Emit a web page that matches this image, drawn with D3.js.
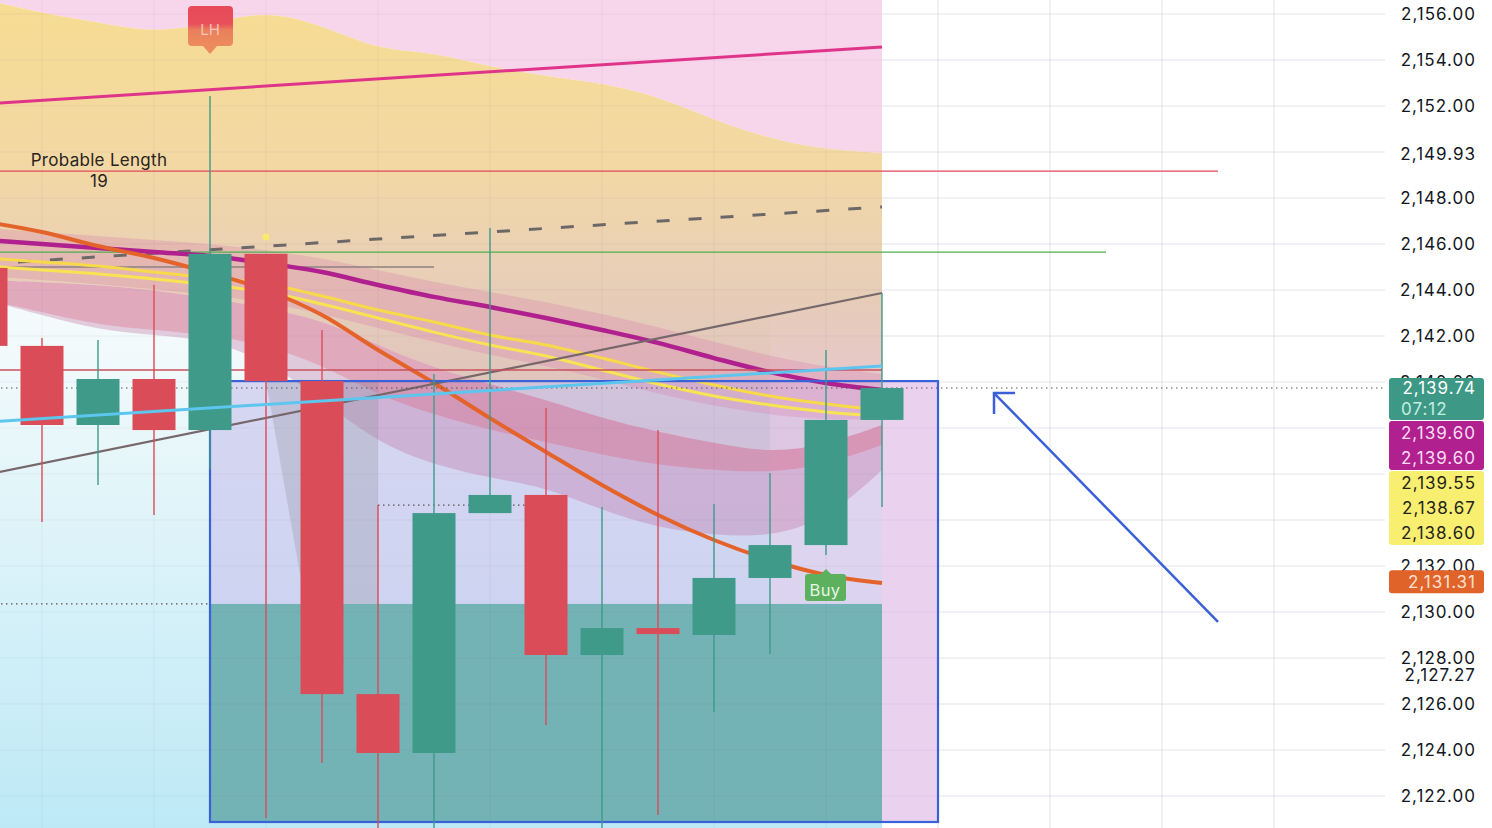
<!DOCTYPE html>
<html>
<head>
<meta charset="utf-8">
<script src="https://cdn.jsdelivr.net/npm/d3@7/dist/d3.min.js"></script>
<style>
html, body { margin: 0; padding: 0; background: #fff; overflow: hidden; }
svg { display: block; font-family: Inter, "Noto Sans", sans-serif; }
</style>
</head>
<body>
<svg id="chart" width="1492" height="828"></svg>
<script>
// ---- candles (bar index 0..16) ----
const opens  = [2144.96, 2141.57, 2138.13, 2140.13, 2137.91, 2145.57, 2140.04, 2126.43, 2123.87, 2134.30, 2135.09, 2128.13, 2129.30, 2129.00, 2131.48, 2132.91, 2138.35];
const closes = [2141.57, 2138.13, 2140.13, 2137.91, 2145.57, 2140.04, 2126.43, 2123.87, 2134.30, 2135.09, 2128.13, 2129.30, 2129.04, 2131.48, 2132.91, 2138.35, 2139.74];
const highs  = [2146.00, 2141.91, 2141.83, 2144.22, 2152.43, 2145.57, 2142.26, 2134.65, 2140.35, 2146.70, 2138.87, 2134.57, 2137.91, 2134.70, 2136.04, 2141.39, 2143.87];
const lows   = [2140.50, 2133.91, 2135.52, 2134.22, 2136.20, 2121.04, 2123.43, 2120.20, 2120.20, 2134.30, 2125.09, 2120.30, 2121.17, 2125.65, 2128.17, 2132.48, 2134.57];

// ---- moving averages ----
const maMagenta = [2146.17, 2146.00, 2145.83, 2145.65, 2145.48, 2145.17, 2144.78, 2144.22, 2143.70, 2143.26, 2142.78, 2142.26, 2141.70, 2141.04, 2140.43, 2139.96, 2139.65];
const maOrange  = [2146.96, 2146.52, 2145.91, 2145.39, 2144.74, 2144.00, 2142.91, 2141.39, 2139.96, 2138.43, 2136.96, 2135.52, 2134.22, 2133.13, 2132.26, 2131.61, 2131.26];
const maYellow1 = [2145.39, 2145.22, 2145.04, 2144.78, 2144.52, 2144.26, 2143.74, 2143.13, 2142.61, 2142.04, 2141.61, 2141.04, 2140.43, 2139.87, 2139.39, 2139.04, 2138.78];
const maYellow2 = [2145.04, 2144.87, 2144.70, 2144.48, 2144.22, 2143.91, 2143.39, 2142.78, 2142.17, 2141.61, 2141.13, 2140.52, 2139.91, 2139.39, 2139.00, 2138.70, 2138.52];

// ---- cloud and ribbon bands ----
const cloudTop = [2156.61, 2156.04, 2155.65, 2155.17, 2155.57, 2156.17, 2155.52, 2154.43, 2154.35, 2153.70, 2153.30, 2153.00, 2152.43, 2151.39, 2150.57, 2150.09, 2149.96];
const bandATop = [2146.70, 2146.52, 2146.35, 2146.17, 2146.00, 2145.74, 2145.39, 2144.87, 2144.35, 2143.91, 2143.48, 2142.96, 2142.39, 2141.74, 2141.13, 2140.65, 2140.35];
const bandABot = [2144.61, 2144.43, 2144.26, 2144.04, 2143.78, 2143.48, 2142.96, 2142.35, 2141.74, 2141.17, 2140.70, 2140.13, 2139.48, 2138.96, 2138.57, 2138.35, 2138.35];
const bandBTop = [2144.43, 2144.35, 2144.22, 2144.00, 2143.65, 2143.22, 2142.70, 2141.61, 2140.61, 2139.91, 2139.22, 2138.43, 2137.83, 2137.35, 2136.91, 2137.26, 2138.13];
const bandBBot = [2143.57, 2143.04, 2142.48, 2142.26, 2142.04, 2141.61, 2140.74, 2139.43, 2138.57, 2137.91, 2137.39, 2136.83, 2136.39, 2136.17, 2136.04, 2136.39, 2137.26];
const bandCBot = [2143.57, 2142.91, 2142.26, 2142.04, 2141.83, 2140.96, 2139.22, 2137.35, 2136.39, 2135.83, 2135.43, 2134.43, 2133.65, 2133.35, 2133.26, 2134.00, 2136.17];
const grayWedge = [[5, 2140.04], [7, 2140.04], [7, 2130.35], [5.7, 2130.35]];

// ---- drawings: [bar, price] pairs ----
const trendMagenta = [[0, 2152.09], [16, 2154.57]];
const trendDashed  = [[0, 2145.13], [16, 2147.61]];
const trendGray    = [[0, 2135.97], [16, 2143.87]];
const trendBlue    = [[0, 2138.26], [16, 2140.70]];
const arrowLine    = [[22, 2129.57], [18, 2139.52]];
// horizontal levels: [price, fromBar, toBar]
const levelRed    = [2149.17, 0, 22];
const levelGreen  = [2145.65, 0, 20];
const levelGrayS  = [2145.00, 0, 8];
const levelRed2   = [2140.52, 0, 16];
const dottedLevels = [[2139.74, 0, 25], [2130.35, 0, 4], [2134.65, 7, 10]];
// range box: bars 4..17, price top/bottom, zone top
const boxBars = [4, 17];
const boxPrices = [2140.04, 2120.87];
const zoneTop = 2130.35;
const yellowDot = [5, 2146.30];

// ---- price axis ----
const tickValues = [2156, 2154, 2152, 2148, 2146, 2144, 2142, 2140, 2132, 2130, 2128, 2126, 2124, 2122];
const extraTicks = [2149.93, 2127.27];
const lastPrice = 2139.74;
const countdown = "07:12";
const purpleLabels = [2139.60, 2139.60];
const yellowLabels = [2139.55, 2138.67, 2138.60];
const orangeLabel = 2131.31;

const W = 1492, H = 828, plotRight = 1385;
const x = d3.scaleLinear().domain([0, 16]).range([-14, 882]);
const y = d3.scaleLinear().domain([2122, 2156]).range([796, 14]);
const fmt = d3.format(",.2f");
const idx = d3.range(opens.length);
const bw = 43;

const svg = d3.select("#chart");
const defs = svg.append("defs");

defs.append("clipPath").attr("id", "plotClip")
    .append("rect").attr("x", 0).attr("y", 0).attr("width", plotRight).attr("height", H);

function vGrad(id, stops, y1, y2) {
    let g = defs.append("linearGradient").attr("id", id)
        .attr("gradientUnits", "userSpaceOnUse")
        .attr("x1", 0).attr("x2", 0).attr("y1", y1).attr("y2", y2);
    stops.forEach(s => g.append("stop").attr("offset", s[0]).attr("stop-color", s[1]).attr("stop-opacity", s[2] === undefined ? 1 : s[2]));
}
vGrad("bgGrad", [[0, "#fbfdfd"], [0.42, "#f2fafb"], [1, "#bde9f6"]], 0, 828);
vGrad("cloudGrad", [[0, "#f7dc92"], [0.4, "#f2d8a5"], [0.62, "#e9d0b6"], [1, "#dcc0c0"]], 0, 430);
vGrad("lhGrad", [[0, "#e8495a"], [0.45, "#e8505a"], [0.6, "#ea7f5c"], [1, "#ec8c5c"]], 6, 46);
vGrad("tailGrad", [[0, "#fcd2ee", 0], [0.3, "#fcd2ee", 0.3], [1, "#fcd2ee", 0.3]], 300, 604);

const plot = svg.append("g").attr("clip-path", "url(#plotClip)");

// base grid on white
const gridPrices = d3.range(2122, 2157, 2);
const gridBars = d3.range(1, 25, 2);
function drawGrid(g, color) {
    g.selectAll(".gh").data(gridPrices).enter().append("line")
        .attr("x1", 0).attr("x2", plotRight)
        .attr("y1", d => y(d)).attr("y2", d => y(d))
        .attr("stroke", color).attr("stroke-width", 1);
    g.selectAll(".gv").data(gridBars).enter().append("line")
        .attr("x1", d => x(d)).attr("x2", d => x(d))
        .attr("y1", 0).attr("y2", H)
        .attr("stroke", color).attr("stroke-width", 1);
}
drawGrid(plot.append("g"), "#eeeef2");

// indicator backgrounds (bars 0..16)
plot.append("rect").attr("x", 0).attr("y", 0)
    .attr("width", x(16)).attr("height", H).attr("fill", "url(#bgGrad)");

plot.append("path").datum(idx)
    .attr("d", d3.area().x(i => x(i)).y0(0).y1(i => y(cloudTop[i])).curve(d3.curveBasis))
    .attr("fill", "#f7d5ea");

plot.append("path").datum(idx)
    .attr("d", d3.area().x(i => x(i)).y0(i => y(bandBTop[i])).y1(i => y(cloudTop[i])).curve(d3.curveBasis))
    .attr("fill", "url(#cloudGrad)");

// range box fill
plot.append("rect")
    .attr("x", x(boxBars[0])).attr("y", y(boxPrices[0]))
    .attr("width", x(boxBars[1]) - x(boxBars[0])).attr("height", y(boxPrices[1]) - y(boxPrices[0]))
    .attr("fill", "rgba(200,193,236,0.62)");
plot.append("rect")
    .attr("x", x(boxBars[0])).attr("y", y(zoneTop))
    .attr("width", x(16) - x(boxBars[0])).attr("height", y(boxPrices[1]) - y(zoneTop))
    .attr("fill", "#73b3b5");
plot.append("rect")
    .attr("x", x(16)).attr("y", y(boxPrices[0]))
    .attr("width", x(boxBars[1]) - x(16)).attr("height", y(boxPrices[1]) - y(boxPrices[0]))
    .attr("fill", "rgba(244,205,236,0.6)");
plot.append("rect")
    .attr("x", x(14)).attr("y", 300)
    .attr("width", x(16) - x(14)).attr("height", y(zoneTop) - 300)
    .attr("fill", "url(#tailGrad)");

// ribbon bands
function band(top, bot, fill) {
    plot.append("path").datum(idx)
        .attr("d", d3.area().x(i => x(i)).y0(i => y(bot[i])).y1(i => y(top[i])).curve(d3.curveBasis))
        .attr("fill", fill);
}
band(bandATop, bandABot, "rgba(214,120,172,0.28)");
band(bandBBot, bandCBot, "rgba(190,110,160,0.34)");
band(bandBTop, bandBBot, "rgba(208,88,125,0.5)");

plot.append("path").datum(grayWedge)
    .attr("d", d3.line().x(d => x(d[0])).y(d => y(d[1])))
    .attr("fill", "rgba(140,140,155,0.28)");

// faint grid over the coloured zone
drawGrid(plot.append("g"), "rgba(110,100,140,0.07)");

// lines under candles
const seg = d3.line().x(d => x(d[0])).y(d => y(d[1]));
function trend(pts, color, w, dash) {
    plot.append("path").datum(pts).attr("d", seg)
        .attr("fill", "none").attr("stroke", color).attr("stroke-width", w)
        .attr("stroke-dasharray", dash || null);
}
function level(l, color, w, dash) {
    trend([[l[1], l[0]], [l[2], l[0]]], color, w, dash);
}
trend(trendMagenta, "#e0348b", 3);
level(levelRed, "#e04a5c", 1.2);
trend(trendDashed, "#6d6868", 3, "13 19");
level(levelGreen, "#4caf50", 1.2);
level(levelGrayS, "#8c8282", 1.5);

const maLine = d3.line().x((d, i) => x(i)).y(d => y(d)).curve(d3.curveMonotoneX);
function ma(data, color, w) {
    plot.append("path").datum(data).attr("d", maLine)
        .attr("fill", "none").attr("stroke", color).attr("stroke-width", w);
}
ma(maYellow1, "#f7d94a", 3);
ma(maYellow2, "#f8e452", 3);
ma(maMagenta, "#b0208e", 4.5);
ma(maOrange, "#e4632a", 4);
trend(trendGray, "#76686a", 2.2);
level(levelRed2, "#c8505e", 1.5);
dottedLevels.forEach(l => level(l, "#555", 1.2, "1.5 3.5"));

// range box outline
plot.append("rect")
    .attr("x", x(boxBars[0])).attr("y", y(boxPrices[0]))
    .attr("width", x(boxBars[1]) - x(boxBars[0])).attr("height", y(boxPrices[1]) - y(boxPrices[0]))
    .attr("fill", "none").attr("stroke", "#3a62d8").attr("stroke-width", 2.2);

// candles
const up = "#3f9a89", down = "#db4c59";
const candle = plot.append("g").selectAll("g").data(idx).enter().append("g");
candle.append("line")
    .attr("x1", i => x(i)).attr("x2", i => x(i))
    .attr("y1", i => y(highs[i])).attr("y2", i => y(lows[i]))
    .attr("stroke", i => closes[i] >= opens[i] ? up : down).attr("stroke-width", 1.4);
candle.append("rect")
    .attr("x", i => x(i) - bw / 2).attr("width", bw)
    .attr("y", i => y(Math.max(opens[i], closes[i])))
    .attr("height", i => Math.max(1, Math.abs(y(opens[i]) - y(closes[i]))))
    .attr("fill", i => closes[i] >= opens[i] ? up : down);

// lines above candles
trend(trendBlue, "#5cc6ee", 3);
plot.append("circle").attr("cx", x(yellowDot[0])).attr("cy", y(yellowDot[1]))
    .attr("r", 3.5).attr("fill", "#f8ea6a");

// arrow
trend(arrowLine, "#3a5fd8", 2.5);
const tip = [x(arrowLine[1][0]), y(arrowLine[1][1])];
plot.append("path")
    .attr("d", `M${tip[0] + 21},${tip[1]}H${tip[0]}V${tip[1] + 21}`)
    .attr("fill", "none").attr("stroke", "#3a5fd8").attr("stroke-width", 2.5);

// LH label above bar 4
const lhX = x(4), lhTip = y(highs[4]) - 42;
plot.append("path")
    .attr("d", `M${lhX - 7},${lhTip - 8}L${lhX},${lhTip}L${lhX + 7},${lhTip - 8}Z`)
    .attr("fill", "#ec8c5c");
plot.append("rect").attr("x", lhX - 22).attr("y", lhTip - 48).attr("width", 45).attr("height", 40)
    .attr("rx", 4).attr("fill", "url(#lhGrad)");
plot.append("text").attr("x", lhX).attr("y", lhTip - 25)
    .attr("text-anchor", "middle").attr("dominant-baseline", "central")
    .attr("font-size", 15).attr("fill", "#f6c2bb").text("LH");

// Buy label below bar 15
const byX = x(15), byTip = y(lows[15]) + 14;
plot.append("path")
    .attr("d", `M${byX - 5},${byTip + 5}L${byX},${byTip}L${byX + 5},${byTip + 5}Z`)
    .attr("fill", "#5cb05e");
plot.append("rect").attr("x", byX - 21).attr("y", byTip + 5).attr("width", 41).attr("height", 27)
    .attr("rx", 3).attr("fill", "#5cb05e");
plot.append("text").attr("x", byX - 1).attr("y", byTip + 21)
    .attr("text-anchor", "middle").attr("dominant-baseline", "central")
    .attr("font-size", 16.5).attr("letter-spacing", 0.4).attr("fill", "#e6f6e4").text("Buy");

// Probable Length note
const note = plot.append("text").attr("text-anchor", "middle")
    .attr("font-size", 17).attr("letter-spacing", 0.3).attr("fill", "#2a2420");
note.append("tspan").attr("x", x(2) + 1).attr("y", y(levelRed[0]) - 5).text("Probable Length");
note.append("tspan").attr("x", x(2) + 1).attr("y", y(levelRed[0]) + 16).text("19");

// ---- price axis ----
const axisG = svg.append("g");
const labelX = 1476;
const fs = 17, ls = 1;
axisG.selectAll(".tick").data(tickValues.concat(extraTicks)).enter().append("text")
    .attr("x", labelX).attr("y", d => y(d))
    .attr("text-anchor", "end").attr("dominant-baseline", "central")
    .attr("font-size", fs).attr("letter-spacing", ls).attr("fill", "#131722")
    .text(d => fmt(d));

const boxX = 1389, boxW = 95;
const y0 = y(lastPrice);
function tag(top, h, color) {
    axisG.append("rect").attr("x", boxX).attr("y", top).attr("width", boxW).attr("height", h)
        .attr("rx", 3).attr("fill", color);
}
function tagText(txt, yy, color, anchor) {
    axisG.append("text").attr("x", anchor === "start" ? 1401 : labelX).attr("y", yy)
        .attr("text-anchor", anchor || "end").attr("dominant-baseline", "central")
        .attr("font-size", fs).attr("letter-spacing", ls).attr("fill", color).text(txt);
}
tag(y0 - 10, 42, "#3d9986");
tagText(fmt(lastPrice), y0, "#ffffff");
tagText(countdown, y0 + 21, "#c4eee2", "start");
tag(y0 + 33, 49, "#b1208f");
purpleLabels.forEach((v, k) => tagText(fmt(v), y0 + 45 + 25 * k, "#fbdcf4"));
tag(y0 + 83, 74, "#f8ee70");
yellowLabels.forEach((v, k) => tagText(fmt(v), y0 + 95 + 25 * k, "#26241a"));
tag(y(orangeLabel) - 11.5, 23, "#e0632a");
tagText(fmt(orangeLabel), y(orangeLabel), "#fde0d0");
</script>
</body>
</html>
